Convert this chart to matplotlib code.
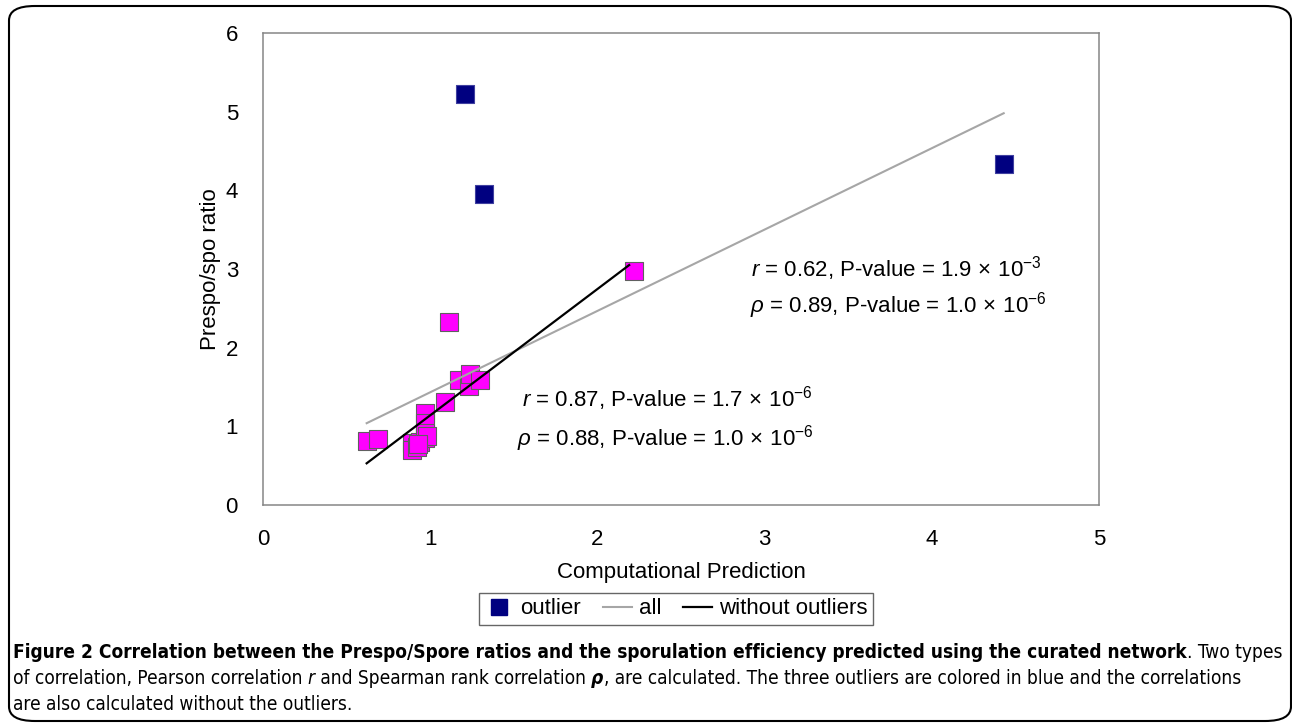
import matplotlib
matplotlib.use("Agg")
import matplotlib.pyplot as plt
from matplotlib import font_manager
from matplotlib.lines import Line2D
from matplotlib.patches import FancyBboxPatch

# --- data ---
pred_in = [0.62, 0.69, 0.89, 0.89, 0.92, 0.94, 0.97, 0.97, 0.97, 0.97, 0.98,
           1.09, 1.11, 1.17, 1.23, 1.24, 1.30, 2.22, 0.93]
ratio_in = [0.81, 0.84, 0.79, 0.70, 0.74, 0.80, 0.85, 1.17, 1.04, 0.92, 0.88,
            1.31, 2.33, 1.59, 1.51, 1.67, 1.59, 2.97, 0.77]
pred_out = [1.21, 1.32, 4.43]
ratio_out = [5.22, 3.95, 4.33]

# regression lines (end points as drawn)
fit_all_x = [0.62, 4.43]
fit_all_y = [1.04, 4.98]
fit_in_x = [0.62, 2.19]
fit_in_y = [0.53, 3.05]

xticks = [0, 1, 2, 3, 4, 5]
yticks = [0, 1, 2, 3, 4, 5, 6]

ARIAL = "Liberation Sans"
fonts = font_manager.fontManager.ttflist
names = {f.name for f in fonts}
if "Liberation Sans Narrow" in names:
    CAP_FONT, CAP_STRETCH = "Liberation Sans Narrow", "normal"
elif any(f.name == "DejaVu Sans" and f.stretch == "condensed" for f in fonts):
    CAP_FONT, CAP_STRETCH = "DejaVu Sans", "condensed"
else:
    CAP_FONT, CAP_STRETCH = "Open Sans", "normal"

plt.rcParams["font.family"] = [ARIAL, "DejaVu Sans"]
plt.rcParams["mathtext.fontset"] = "custom"
plt.rcParams["mathtext.rm"] = ARIAL
plt.rcParams["mathtext.it"] = ARIAL + ":italic"

fig = plt.figure(figsize=(12.92, 7.25), dpi=100)
W, H = 1292, 725

# rounded frame round the whole figure
frame = FancyBboxPatch((9 / W, 4 / H), 1282 / W, 715 / H,
                       boxstyle="round,pad=0,rounding_size=0.02",
                       transform=fig.transFigure, fill=False,
                       edgecolor="black", linewidth=1.5, zorder=0)
fig.patches.append(frame)

ax = fig.add_axes([263 / W, 1 - 505 / H, (1099 - 263) / W, (505 - 33) / H])

ax.scatter(pred_in, ratio_in, marker="s", s=150, color="#ff00ff",
           edgecolors="#606060", linewidths=0.8, zorder=3)
ax.scatter(pred_out, ratio_out, marker="s", s=150, color="#000080",
           edgecolors="#4040a0", linewidths=0.8, zorder=3)
ax.plot(fit_all_x, fit_all_y, color="#a6a6a6", lw=1.5, zorder=4)
ax.plot(fit_in_x, fit_in_y, color="black", lw=1.6, zorder=4)

ax.set_xlim(0, 5)
ax.set_ylim(0, 6)
ax.set_xticks(xticks)
ax.set_yticks(yticks)
ax.tick_params(length=0, labelsize=16)
ax.tick_params(axis="x", pad=17)
ax.tick_params(axis="y", pad=18)
for s in ax.spines.values():
    s.set_color("#868686")
    s.set_linewidth(1.1)

ax.set_xlabel("Computational Prediction", fontsize=16, labelpad=9)
ax.set_ylabel("Prespo/spo ratio", fontsize=16, labelpad=3.5)

# correlation annotations
sp = r"$\,\times\,$"
ax.text(2.92, 3.01, r"$\it{r}$ = 0.62, P-value = 1.9" + sp + r"10$^{-3}$",
        fontsize=16, va="center")
ax.text(2.91, 2.54, r"$\rho$ = 0.89, P-value = 1.0" + sp + r"10$^{-6}$",
        fontsize=16, va="center")
ax.text(1.55, 1.35, r"$\it{r}$ = 0.87, P-value = 1.7" + sp + r"10$^{-6}$",
        fontsize=16, va="center")
ax.text(1.52, 0.85, r"$\rho$ = 0.88, P-value = 1.0" + sp + r"10$^{-6}$",
        fontsize=16, va="center")

handles = [
    Line2D([], [], marker="s", ls="none", markersize=11,
           markerfacecolor="#000080", markeredgecolor="#000080", label="outlier"),
    Line2D([], [], color="#a6a6a6", lw=1.5, label="all"),
    Line2D([], [], color="black", lw=1.6, label="without outliers"),
]
leg = fig.legend(handles=handles, ncol=3, fontsize=16, loc="center",
                 bbox_to_anchor=(676 / W, 1 - 609 / H), frameon=True,
                 fancybox=False, edgecolor="#404040", handlelength=1.3,
                 handletextpad=0.3, columnspacing=1.0, borderpad=0.25)
leg.get_frame().set_linewidth(1.0)

# caption, drawn piece by piece so bold/italic runs sit side by side
fig.canvas.draw()
renderer = fig.canvas.get_renderer()


def draw_runs(x, y, runs, size):
    made = []
    for txt, weight, style in runs:
        t = fig.text(x / W, 1 - y / H, txt, fontsize=size, family=CAP_FONT,
                     stretch=CAP_STRETCH, weight=weight, style=style,
                     va="baseline", ha="left")
        made.append(t)
        x += t.get_window_extent(renderer).width
    return x, made


cap_lines = [
    [("Figure 2 Correlation between the Prespo/Spore ratios and the sporulation "
      "efficiency predicted using the curated network", "bold", "normal"),
     (". Two types", "normal", "normal")],
    [("of correlation, Pearson correlation ", "normal", "normal"),
     ("r", "normal", "italic"),
     (" and Spearman rank correlation ", "normal", "normal"),
     ("\u03c1", "bold", "italic"),
     (", are calculated. The three outliers are colored in blue and the correlations",
      "normal", "normal")],
    [("are also calculated without the outliers.", "normal", "normal")],
]
cap_y = [658, 684, 710]

# size the caption so that the first line spans the box as in the reference
end, trial = draw_runs(13, cap_y[0], cap_lines[0], 10)
for t in trial:
    t.remove()
cap_size = 10 * (1276 - 13) / (end - 13)
for runs, y in zip(cap_lines, cap_y):
    draw_runs(13, y, runs, cap_size)

fig.savefig("out.png", dpi=100)
